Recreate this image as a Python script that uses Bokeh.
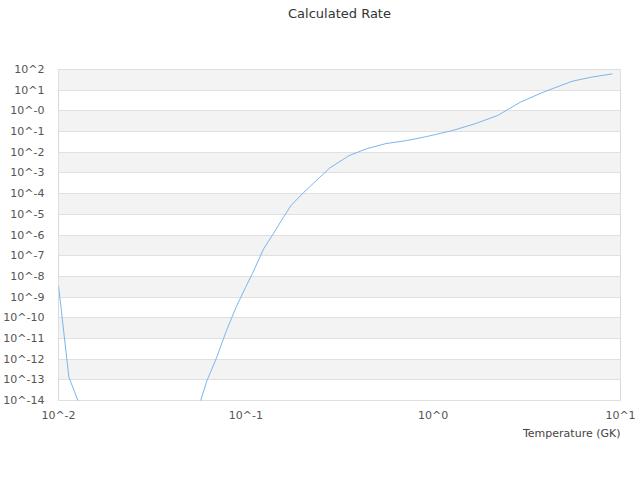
from bokeh.plotting import figure
from bokeh.models import FixedTicker, CustomJSTickFormatter, Range1d, Title
from bokeh.embed import file_html
from bokeh.resources import INLINE

# Temperature (GK) and calculated rate
temperature = [0.01, 0.01136, 0.01429, 0.02753, 0.05298, 0.06207, 0.06995,
               0.07851, 0.08873, 0.09961, 0.1083, 0.1245, 0.1402, 0.1548,
               0.1743, 0.2042, 0.2443, 0.2807, 0.3562, 0.4415, 0.5603,
               0.7278, 0.9236, 1.269, 1.675, 2.212, 2.922, 3.857, 5.513,
               6.995, 9.06]
rate = [3.63e-09, 1.35e-13, 6.2e-16, 3.2e-29, 1.05e-15, 9.3e-14, 1.23e-12,
        2.19e-11, 3.24e-10, 2.88e-09, 1.35e-08, 2.14e-07, 1.15e-06, 5.0e-06,
        2.69e-05, 1.17e-04, 5.37e-04, 1.74e-03, 6.92e-03, 1.48e-02, 2.63e-02,
        3.72e-02, 5.75e-02, 0.112, 0.240, 0.603, 2.63, 7.94, 26.9, 42.7, 61.7]

y_tick_exponents = list(range(-15, 3))
x_tick_exponents = [-2, -1, 0, 1]

FONT = "DejaVu Sans"

p = figure(width=636, height=472, x_axis_type="log", y_axis_type="log",
           x_range=Range1d(0.01, 10), y_range=Range1d(1e-14, 100),
           output_backend="svg", toolbar_location=None,
           min_border_left=10, min_border_right=16,
           min_border_top=69, min_border_bottom=72)

p.title = Title(text="Calculated Rate", align="center", text_font=FONT,
                text_font_size="13px", text_font_style="normal",
                text_color="#333333", standoff=6, offset=-19)

# blank spacer panel between the frame and the chart title
spacer = Title(text=" ", text_font=FONT, text_font_size="13px", standoff=29)
p.add_layout(spacer, "above")

p.line(temperature, rate, line_color="#7cb5ec", line_width=1)

p.yaxis.ticker = FixedTicker(ticks=[10.0 ** k for k in y_tick_exponents])
p.xaxis.ticker = FixedTicker(ticks=[10.0 ** k for k in x_tick_exponents])
p.yaxis.formatter = CustomJSTickFormatter(code="""
const e = Math.round(Math.log10(tick));
return e <= 0 ? '10^-' + Math.abs(e) : '10^' + e;
""")
p.xaxis.formatter = CustomJSTickFormatter(code="""
const e = Math.round(Math.log10(tick));
return '10^' + e;
""")

for ax in (p.xaxis, p.yaxis):
    ax.axis_line_color = None
    ax.major_tick_line_color = None
    ax.minor_tick_line_color = None
    ax.major_label_text_font = FONT
    ax.major_label_text_font_size = "11px"
    ax.major_label_text_color = "#555555"
p.yaxis.major_label_standoff = 8
p.xaxis.major_label_standoff = 2

x_label = Title(text="Temperature (GK)", align="right", text_font=FONT,
                text_font_size="11px", text_font_style="normal",
                text_color="#444444", standoff=0)
p.add_layout(x_label, "below")

p.xgrid.grid_line_color = None
p.ygrid.grid_line_color = "#e0e0e0"
p.ygrid.grid_line_width = 1
p.ygrid.band_fill_color = "#f3f3f3"
p.ygrid.band_fill_alpha = 1.0

p.outline_line_color = "#d8d8d8"
p.background_fill_color = "white"
p.border_fill_color = "white"

open("out.html", "w").write(file_html(p, INLINE))
